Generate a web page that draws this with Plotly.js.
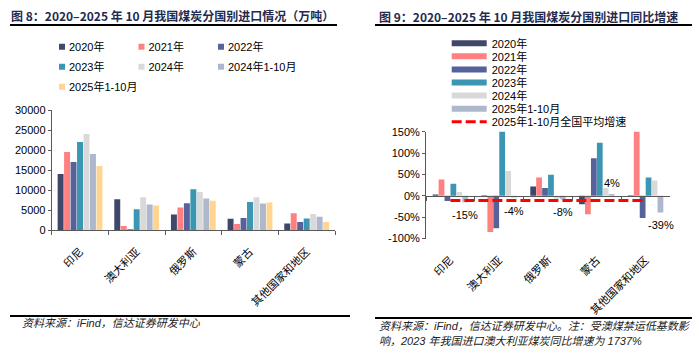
<!DOCTYPE html>
<html><head><meta charset="utf-8">
<script src="https://cdn.plot.ly/plotly-3.0.1.min.js"></script>
<style>
body{margin:0;background:#fff;}
#left,#right{position:absolute;top:0;width:350px;height:354px;}
#left{left:0;} #right{left:350px;}
</style>
</head><body>
<div id="left"></div><div id="right"></div>
<script>
// ---------- DATA ----------
const categories = ['印尼', '澳大利亚', '俄罗斯', '蒙古', '其他国家和地区'];

// Figure 8: coal imports by country (万吨)
const volSeriesNames = ['2020年', '2021年', '2022年', '2023年', '2024年', '2024年1-10月', '2025年1-10月'];
const vol2020 = [14000, 7700, 3900, 2800, 1600];
const vol2021 = [19500, 1000, 5600, 1500, 4200];
const vol2022 = [17000, 200, 6700, 3000, 2000];
const vol2023 = [22000, 5200, 10200, 7000, 2900];
const vol2024 = [24000, 8200, 9500, 8200, 4000];
const vol2024Jan10 = [19000, 6400, 7900, 6600, 3300];
const vol2025Jan10 = [16000, 6100, 7300, 6900, 2000];
const volTickVals = [0, 5000, 10000, 15000, 20000, 25000, 30000];
const volTickText = ['0', '5000', '10000', '15000', '20000', '25000', '30000'];

// Figure 9: YoY growth by country (%)
const yoySeriesNames = ['2020年', '2021年', '2022年', '2023年', '2024年', '2025年1-10月'];
const yoy2020 = [3, 1, 22, -20, 1];
const yoy2021 = [38, -85, 43, -43, 162];
const yoy2022 = [-12, -76, 18, 88, -52];
const yoy2023 = [28, 1737, 49, 124, 43];
const yoy2024 = [9, 58, -7, 18, 36];
const yoy2025Jan10 = [-15, -4, -8, 4, -39];
const nationalAvgName = '2025年1-10月全国平均增速';
const nationalAvg2025Jan10 = -11;
const yoyTickVals = [-100, -50, 0, 50, 100, 150];
const yoyTickText = ['-100%', '-50%', '0%', '50%', '100%', '150%'];

// ---------- STYLE ----------
const W = 350, H = 354;
const px = v => v / W;
const py = v => 1 - v / H;
const FONT = 'Liberation Sans, Arial, Noto Sans CJK SC, sans-serif';
const CJK = 'Noto Sans CJK SC, sans-serif';
const titleColor = '#1f2b4f';
const axisColor = '#595959';

// ---------- LEFT CHART ----------
const volColors = ['#3f4868', '#ff8080', '#56639b', '#3b96b4', '#d9d9d9', '#aeb8cd', '#ffd591'];
const volSeries = [vol2020, vol2021, vol2022, vol2023, vol2024, vol2024Jan10, vol2025Jan10];

const leftTraces = [];
volSeries.forEach((vals, i) => {
  leftTraces.push({
    type: 'bar', x: categories, y: vals, name: volSeriesNames[i],
    marker: {color: volColors[i]}, showlegend: false, hoverinfo: 'skip'
  });
});
const leftLegendKeys = ['legend', 'legend2', 'legend3', 'legend4', 'legend5', 'legend6', 'legend7'];
volSeriesNames.forEach((nm, i) => {
  leftTraces.push({
    type: 'scatter', mode: 'markers', x: [null], y: [null], name: nm,
    marker: {symbol: 'square', size: 6, color: volColors[i]},
    legend: leftLegendKeys[i], showlegend: true
  });
});

const leftColX = [29, 108.5, 188];
const leftRowY = [46.7, 66.7, 86.7];
const leftLayout = {
  width: W, height: H, margin: {l: 0, r: 0, t: 0, b: 0},
  paper_bgcolor: '#fff', plot_bgcolor: '#fff',
  font: {family: FONT, size: 11, color: '#000'},
  barmode: 'group', bargap: 0.2, bargroupgap: 0.08,
  xaxis: {
    domain: [px(51.7), px(335)], type: 'category', range: [-0.5, 4.5],
    showline: true, linecolor: axisColor, linewidth: 1,
    ticks: 'outside', tickson: 'boundaries', ticklen: 4, tickcolor: axisColor,
    tickangle: -45, ticklabelstandoff: 10, tickfont: {family: FONT, size: 11, color: '#000'},
    showgrid: false, zeroline: false, fixedrange: true
  },
  yaxis: {
    domain: [py(230), py(110)], range: [0, 30000],
    showline: true, linecolor: axisColor, linewidth: 1,
    ticks: 'outside', ticklen: 3, tickcolor: axisColor,
    tickvals: volTickVals, ticktext: volTickText,
    tickfont: {family: FONT, size: 11, color: '#000'},
    showgrid: false, zeroline: false, fixedrange: true
  },
  shapes: [
    {type: 'line', xref: 'paper', yref: 'paper', x0: px(10), x1: px(337), y0: py(25), y1: py(25), line: {color: '#000', width: 2}},
    {type: 'line', xref: 'paper', yref: 'paper', x0: px(10), x1: px(350), y0: py(316), y1: py(316), line: {color: '#000', width: 2}}
  ],
  annotations: [
    {xref: 'paper', yref: 'paper', x: px(336), y: py(15.7), xanchor: 'right', yanchor: 'middle', showarrow: false,
     text: '<b>图 8：2020–2025 年 10 月我国煤炭分国别进口情况（万吨）</b>',
     font: {family: CJK, size: 12, color: titleColor}},
    {xref: 'paper', yref: 'paper', x: px(20), y: py(322.7), xanchor: 'left', yanchor: 'middle', showarrow: false,
     text: '资料来源：iFind，信达证券研发中心',
     font: {family: FONT, size: 11, color: '#222', style: 'italic'}}
  ]
};
leftLegendKeys.forEach((k, i) => {
  leftLayout[k] = {
    x: px(leftColX[i % 3]), y: py(leftRowY[Math.floor(i / 3)]),
    xanchor: 'left', yanchor: 'middle', bgcolor: 'rgba(0,0,0,0)', borderwidth: 0,
    font: {family: FONT, size: 11, color: '#000'}, itemclick: false, itemdoubleclick: false
  };
});

// ---------- RIGHT CHART ----------
const yoyColors = ['#3f4868', '#ff8080', '#56639b', '#3b96b4', '#d9d9d9', '#aeb8cd'];
const yoySeries = [yoy2020, yoy2021, yoy2022, yoy2023, yoy2024, yoy2025Jan10];
const rightLegendKeys = ['legend', 'legend2', 'legend3', 'legend4', 'legend5', 'legend6', 'legend7'];

const rightTraces = [];
yoySeries.forEach((vals, i) => {
  rightTraces.push({
    type: 'bar', x: categories, y: vals, name: yoySeriesNames[i], xaxis: 'x', yaxis: 'y',
    marker: {color: yoyColors[i]}, showlegend: false, hoverinfo: 'skip'
  });
});
yoySeriesNames.forEach((nm, i) => {
  rightTraces.push({
    type: 'scatter', mode: 'lines', x: [null], y: [null], name: nm,
    line: {color: yoyColors[i], width: 6},
    legend: rightLegendKeys[i], showlegend: true
  });
});
rightTraces.push({
  type: 'scatter', mode: 'lines', x: categories, y: categories.map(() => nationalAvg2025Jan10),
  name: nationalAvgName, xaxis: 'x2', yaxis: 'y',
  line: {color: '#ff0000', width: 3, dash: '10px,4px'},
  legend: 'legend7', showlegend: true, hoverinfo: 'skip'
});

const rDomY = [py(238.5), py(131.7)];
const zeroFrac = rDomY[0] + (0 - (-100)) / 250 * (rDomY[1] - rDomY[0]);
const labelYPos = [-45, -36, -39, 31, -68];
const rightRowY0 = 43.3, rightRowStep = 13.07;

const rightLayout = {
  width: W, height: H, margin: {l: 0, r: 0, t: 0, b: 0},
  paper_bgcolor: '#fff', plot_bgcolor: '#fff',
  font: {family: FONT, size: 11, color: '#000'},
  barmode: 'group', bargap: 0.27, bargroupgap: 0.03,
  xaxis: {
    domain: [px(76), px(320)], type: 'category', range: [-0.5, 4.5],
    showline: false, ticks: '', tickangle: -45, ticklabelstandoff: 12,
    tickfont: {family: FONT, size: 11, color: '#000'},
    showgrid: false, zeroline: false, fixedrange: true
  },
  xaxis2: {
    overlaying: 'x', anchor: 'free', position: zeroFrac, type: 'category', range: [-0.5, 4.5],
    showline: true, linecolor: axisColor, linewidth: 1,
    ticks: 'outside', tickson: 'boundaries', ticklen: 4, tickcolor: axisColor,
    showticklabels: false, showgrid: false, zeroline: false, fixedrange: true
  },
  yaxis: {
    domain: rDomY, range: [-100, 150],
    showline: true, linecolor: axisColor, linewidth: 1,
    ticks: 'outside', ticklen: 3, tickcolor: axisColor,
    tickvals: yoyTickVals, ticktext: yoyTickText,
    tickfont: {family: FONT, size: 11, color: '#000'},
    showgrid: false, zeroline: false, fixedrange: true
  },
  shapes: [
    {type: 'line', xref: 'paper', yref: 'paper', x0: px(25), x1: px(342), y0: py(25), y1: py(25), line: {color: '#000', width: 2}},
    {type: 'line', xref: 'paper', yref: 'paper', x0: px(25), x1: px(342), y0: py(318), y1: py(318), line: {color: '#000', width: 2}}
  ],
  annotations: [
    {xref: 'paper', yref: 'paper', x: px(27), y: py(16.5), xanchor: 'left', yanchor: 'middle', showarrow: false,
     text: '<b>图 9：2020–2025 年 10 月我国煤炭分国别进口同比增速</b>',
     font: {family: CJK, size: 12, color: titleColor}},
    {xref: 'paper', yref: 'paper', x: px(27), y: py(326), xanchor: 'left', yanchor: 'middle', showarrow: false,
     text: '资料来源：iFind，信达证券研发中心。注：受澳煤禁运低基数影',
     font: {family: FONT, size: 11, color: '#222', style: 'italic'}},
    {xref: 'paper', yref: 'paper', x: px(27), y: py(340.7), xanchor: 'left', yanchor: 'middle', showarrow: false,
     text: '响，2023 年我国进口澳大利亚煤炭同比增速为 1737%',
     font: {family: FONT, size: 11, color: '#222', style: 'italic'}}
  ]
};
categories.forEach((c, i) => {
  rightLayout.annotations.push({
    xref: 'x', yref: 'y', x: c, y: labelYPos[i], xshift: 15, showarrow: false,
    text: yoy2025Jan10[i] + '%', font: {family: FONT, size: 11, color: '#000'}
  });
});
rightLegendKeys.forEach((k, i) => {
  rightLayout[k] = {
    x: px(96.7), y: py(rightRowY0 + rightRowStep * i),
    xanchor: 'left', yanchor: 'middle', bgcolor: 'rgba(0,0,0,0)', borderwidth: 0, itemwidth: 35,
    font: {family: FONT, size: 11, color: '#000'}, itemclick: false, itemdoubleclick: false
  };
});

const cfg = {displayModeBar: false, staticPlot: true};
Plotly.newPlot('left', leftTraces, leftLayout, cfg).then(() => {
  document.querySelectorAll('#left .legendpoints').forEach(el => el.setAttribute('transform', 'translate(13,0)'));
});
Plotly.newPlot('right', rightTraces, rightLayout, cfg);
</script>
</body></html>
